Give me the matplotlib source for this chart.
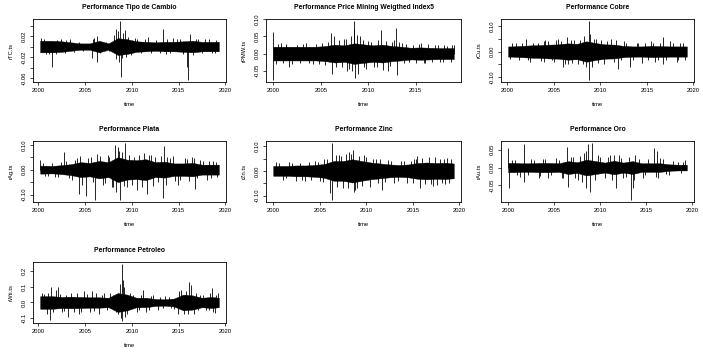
import numpy as np
import matplotlib
matplotlib.use("Agg")
import matplotlib.pyplot as plt

plt.rcParams['font.family'] = ['Liberation Sans', 'DejaVu Sans']

# yearly width of the dense core of each series (half width, symmetric around 0)
years = [2000, 2001, 2002, 2003, 2004, 2005, 2006, 2007, 2008, 2009,
         2010, 2011, 2012, 2013, 2014, 2015, 2016, 2017, 2018, 2019]
x_ticks = [2000, 2005, 2010, 2015, 2020]

# Tipo de Cambio
tc_start, tc_end = 2000.2, 2019.3
tc_band = [0.011, 0.011, 0.010, 0.008, 0.006, 0.006, 0.011, 0.006, 0.016, 0.014,
           0.010, 0.009, 0.008, 0.009, 0.009, 0.010, 0.011, 0.009, 0.009, 0.009]
tc_spike_t = [2000.3, 2000.8, 2001.5, 2002.0, 2002.9, 2003.4, 2005.7, 2006.0, 2006.25, 2006.3,
              2008.3, 2008.32, 2008.5, 2008.75, 2008.8, 2009.0, 2009.3, 2009.6, 2010.6, 2011.7,
              2013.3, 2013.6, 2014.4, 2015.2, 2015.9, 2016.05, 2016.25, 2016.9, 2017.8, 2018.6, 2019.0]
tc_spike_v = [0.016, -0.014, -0.039, 0.013, -0.012, 0.014, -0.021, 0.016, -0.029, 0.021,
              0.034, -0.023, 0.029, 0.048, -0.057, -0.022, 0.032, 0.019, 0.014, 0.019,
              0.034, -0.014, 0.016, 0.014, -0.038, -0.063, 0.024, 0.014, 0.014, -0.013, 0.013]
tc_small_t = [2000.6, 2001.1, 2001.9, 2002.4, 2003.0, 2003.8, 2004.3, 2004.8, 2005.9, 2006.6,
              2007.2, 2007.6, 2008.1, 2008.6, 2009.1, 2009.4, 2009.9, 2010.3, 2011.0, 2011.4,
              2012.1, 2012.6, 2013.0, 2013.8, 2014.1, 2014.8, 2015.5, 2016.5, 2017.1, 2017.5,
              2018.2, 2018.9]
tc_small_v = [0.015, -0.015, -0.014, 0.014, 0.012, -0.010, 0.009, -0.008, 0.015, -0.012,
              0.009, -0.009, 0.022, -0.030, 0.025, -0.020, -0.016, 0.016, -0.013, 0.014,
              -0.012, 0.013, -0.012, 0.014, -0.013, 0.014, -0.014, -0.016, 0.015, -0.013,
              0.014, -0.013]
tc_yticks = [-0.06, -0.04, -0.02, 0.00, 0.02, 0.04]
tc_ylabels = ["-0.06", "", "-0.02", "", "0.02", ""]

# Price Mining Weigthed Index5
pmw_start, pmw_end = 2000.0, 2019.0
pmw_band = [0.020, 0.020, 0.020, 0.020, 0.020, 0.022, 0.026, 0.024, 0.030, 0.027,
            0.024, 0.026, 0.022, 0.020, 0.017, 0.018, 0.017, 0.016, 0.016, 0.016]
pmw_spike_t = [2000.0, 2000.02, 2000.5, 2001.0, 2001.7, 2002.5, 2003.5, 2004.2, 2004.5, 2005.5,
               2006.1, 2006.2, 2006.4, 2007.2, 2007.7, 2007.8, 2008.2, 2008.45, 2008.55, 2008.6,
               2008.9, 2009.1, 2009.8, 2010.3, 2010.6, 2011.3, 2011.6, 2012.1, 2012.5, 2012.95,
               2013.0, 2013.5, 2014.3, 2015.6, 2015.9, 2016.3, 2017.0, 2017.5, 2018.3, 2019.0]
pmw_spike_v = [0.062, -0.076, 0.028, -0.028, -0.038, 0.026, 0.030, -0.030, 0.028, -0.034,
               0.059, -0.059, 0.052, -0.040, 0.043, -0.052, 0.050, 0.071, 0.094, -0.071,
               -0.060, 0.050, -0.045, 0.033, -0.040, 0.068, -0.049, -0.052, 0.035, 0.076,
               -0.062, 0.030, -0.025, 0.030, -0.028, 0.029, 0.025, -0.025, 0.022, 0.026]
pmw_small_t = [2000.3, 2000.8, 2001.3, 2002.0, 2002.8, 2003.1, 2003.8, 2004.8, 2005.1, 2005.8,
               2006.6, 2006.9, 2007.4, 2008.0, 2008.3, 2008.8, 2009.4, 2009.6, 2010.0, 2010.9,
               2011.0, 2011.9, 2012.3, 2012.7, 2013.2, 2013.8, 2014.0, 2014.7, 2015.0, 2015.3,
               2016.0, 2016.7, 2017.3, 2017.9, 2018.0, 2018.7, 2018.8]
pmw_small_v = [-0.030, 0.030, 0.027, -0.030, -0.028, 0.029, -0.027, -0.030, 0.032, 0.035,
               -0.040, 0.040, 0.042, -0.045, -0.050, 0.055, 0.040, -0.040, 0.038, -0.038,
               0.040, 0.036, -0.035, 0.040, 0.035, -0.028, 0.027, 0.026, -0.026, 0.027,
               -0.026, -0.025, 0.026, -0.024, 0.025, -0.024, 0.024]
pmw_yticks = [-0.05, 0.00, 0.05, 0.10]
pmw_ylabels = ["-0.05", "0.00", "0.05", "0.10"]

# Cobre
cu_start, cu_end = 2000.1, 2019.3
cu_band = [0.020, 0.022, 0.024, 0.025, 0.027, 0.028, 0.032, 0.030, 0.040, 0.033,
           0.028, 0.027, 0.022, 0.020, 0.020, 0.022, 0.021, 0.020, 0.020, 0.020]
cu_spike_t = [2000.5, 2001.3, 2002.0, 2002.5, 2003.3, 2004.0, 2004.1, 2004.8, 2005.5, 2005.95,
              2006.4, 2006.5, 2007.2, 2007.6, 2008.3, 2008.75, 2008.8, 2008.9, 2009.1, 2009.5,
              2010.4, 2011.2, 2011.9, 2012.5, 2013.15, 2013.9, 2014.5, 2015.4, 2015.9, 2016.75,
              2016.7, 2017.5, 2018.2, 2018.6, 2019.1]
cu_spike_v = [0.035, -0.035, 0.049, -0.040, 0.035, -0.040, 0.045, -0.035, 0.050, -0.060,
              0.057, -0.050, 0.045, -0.050, 0.060, 0.118, -0.110, 0.070, -0.060, 0.050,
              -0.050, 0.049, -0.067, 0.040, -0.060, 0.035, -0.045, 0.040, -0.040, 0.057,
              -0.050, 0.040, -0.040, 0.035, -0.035]
cu_small_t = [2000.3, 2000.9, 2001.6, 2002.2, 2002.8, 2003.6, 2003.9, 2004.4, 2005.0, 2005.2,
              2005.8, 2006.2, 2006.8, 2007.0, 2007.8, 2008.1, 2008.5, 2009.3, 2009.8, 2010.1,
              2010.7, 2011.5, 2011.7, 2012.2, 2012.8, 2013.5, 2014.1, 2014.8, 2015.1, 2015.7,
              2016.2, 2016.4, 2017.1, 2017.8, 2018.4, 2018.9]
cu_small_v = [-0.030, 0.032, 0.033, -0.035, 0.035, -0.036, 0.040, 0.042, -0.040, 0.044,
              0.042, -0.048, 0.045, -0.045, 0.045, -0.050, -0.060, 0.050, -0.045, 0.045,
              0.042, -0.042, 0.045, -0.035, 0.035, -0.032, 0.032, 0.034, -0.035, 0.033,
              -0.034, 0.035, -0.032, 0.034, -0.032, 0.032]
cu_yticks = [-0.10, -0.05, 0.00, 0.05, 0.10]
cu_ylabels = ["-0.10", "", "0.00", "", "0.10"]

# Plata
ag_start, ag_end = 2000.2, 2019.3
ag_band = [0.016, 0.015, 0.018, 0.022, 0.030, 0.027, 0.035, 0.030, 0.050, 0.040,
           0.038, 0.042, 0.030, 0.032, 0.025, 0.025, 0.027, 0.020, 0.020, 0.020]
ag_spike_t = [2000.2, 2000.7, 2001.5, 2002.1, 2002.7, 2003.3, 2003.9, 2004.35, 2004.5, 2005.1,
              2005.6, 2006.1, 2006.3, 2006.9, 2007.4, 2007.9, 2008.2, 2008.3, 2008.5, 2008.75,
              2009.0, 2009.3, 2009.5, 2010.2, 2010.5, 2011.3, 2011.6, 2012.0, 2012.3, 2013.4,
              2013.35, 2013.8, 2014.4, 2014.9, 2015.7, 2016.4, 2016.75, 2017.3, 2018.0, 2018.7, 2019.1]
ag_spike_v = [0.038, -0.025, 0.025, -0.030, 0.071, -0.035, 0.040, -0.098, 0.055, -0.106,
              0.050, -0.121, 0.061, -0.060, 0.060, -0.070, 0.100, -0.090, 0.090, -0.121,
              0.070, 0.106, -0.070, 0.050, -0.080, 0.068, -0.098, 0.060, -0.065, 0.094,
              -0.114, 0.050, 0.053, -0.060, 0.045, 0.050, -0.076, 0.040, -0.040, 0.035, -0.030]
ag_small_t = [2000.5, 2001.0, 2001.8, 2002.4, 2003.0, 2003.6, 2004.1, 2004.7, 2005.3, 2005.8,
              2006.6, 2007.1, 2007.6, 2008.0, 2008.6, 2009.2, 2009.7, 2010.0, 2010.8, 2011.1,
              2011.8, 2012.5, 2012.8, 2013.1, 2013.6, 2014.1, 2014.6, 2015.2, 2015.9, 2016.1,
              2016.6, 2017.0, 2017.6, 2018.3, 2018.5, 2019.0]
ag_small_v = [0.025, -0.025, -0.028, 0.030, 0.035, -0.040, 0.045, -0.060, 0.045, -0.050,
              0.055, -0.055, 0.050, -0.070, 0.075, -0.065, 0.060, -0.060, 0.060, -0.070,
              0.060, 0.050, -0.050, 0.055, -0.060, 0.045, -0.045, -0.040, 0.042, -0.045,
              0.045, -0.035, 0.035, 0.033, -0.032, 0.030]
ag_yticks = [-0.10, -0.05, 0.00, 0.05, 0.10]
ag_ylabels = ["-0.10", "", "0.00", "", "0.10"]

# Zinc
zn_start, zn_end = 2000.0, 2019.4
zn_band = [0.020, 0.020, 0.022, 0.022, 0.024, 0.028, 0.040, 0.040, 0.047, 0.040,
           0.034, 0.030, 0.026, 0.024, 0.026, 0.032, 0.034, 0.032, 0.033, 0.030]
zn_spike_t = [2000.3, 2001.0, 2001.7, 2002.5, 2003.4, 2003.8, 2004.5, 2005.0, 2005.5, 2006.1,
              2006.3, 2006.35, 2006.7, 2007.3, 2007.5, 2008.1, 2008.6, 2008.7, 2008.8, 2009.2,
              2009.8, 2010.4, 2011.0, 2011.7, 2012.3, 2013.0, 2013.7, 2014.4, 2015.1, 2015.5,
              2015.8, 2016.7, 2017.2, 2017.6, 2018.3, 2018.7, 2018.9]
zn_spike_v = [0.035, -0.035, 0.038, -0.043, -0.040, 0.035, 0.040, -0.040, 0.050, -0.090,
              0.112, -0.117, 0.065, 0.060, -0.070, 0.076, 0.085, -0.084, -0.077, 0.060,
              0.065, -0.065, 0.050, -0.077, 0.045, -0.050, 0.040, -0.050, 0.050, 0.060,
              -0.068, 0.058, -0.060, -0.056, 0.050, 0.054, -0.050]
zn_small_t = [2000.6, 2001.4, 2002.0, 2002.9, 2003.1, 2004.1, 2004.8, 2005.3, 2005.8, 2006.9,
              2007.1, 2007.8, 2008.0, 2008.4, 2009.0, 2009.5, 2010.0, 2010.7, 2011.3, 2011.5,
              2012.0, 2012.7, 2013.4, 2014.0, 2014.8, 2015.0, 2015.3, 2016.0, 2016.3, 2016.9,
              2017.4, 2017.9, 2018.1, 2018.5, 2019.1]
zn_small_v = [0.030, -0.030, 0.032, 0.033, -0.035, -0.035, 0.038, -0.045, 0.050, -0.065,
              0.065, 0.070, -0.070, 0.070, -0.070, -0.060, 0.055, 0.050, -0.050, 0.050,
              -0.045, 0.040, -0.040, 0.040, 0.042, -0.050, 0.050, 0.052, -0.055, -0.052,
              0.055, 0.050, -0.050, -0.052, 0.048]
zn_yticks = [-0.10, -0.05, 0.00, 0.05, 0.10]
zn_ylabels = ["-0.10", "", "0.00", "", "0.10"]

# Oro
au_start, au_end = 2000.0, 2019.4
au_band = [0.013, 0.012, 0.012, 0.013, 0.013, 0.012, 0.018, 0.015, 0.022, 0.018,
           0.014, 0.019, 0.014, 0.018, 0.012, 0.012, 0.012, 0.009, 0.008, 0.008]
au_spike_t = [2000.0, 2000.05, 2000.7, 2001.3, 2001.7, 2001.75, 2002.5, 2003.3, 2003.8, 2004.3,
              2005.2, 2005.8, 2006.4, 2006.5, 2007.0, 2007.6, 2008.2, 2008.4, 2008.7, 2008.9,
              2009.1, 2009.7, 2010.5, 2011.1, 2011.7, 2012.0, 2012.5, 2013.3, 2013.5, 2013.8,
              2014.6, 2015.8, 2016.2, 2016.3, 2016.8, 2017.5, 2018.4, 2019.2]
au_spike_v = [0.054, -0.057, 0.020, -0.025, 0.065, -0.039, 0.025, -0.030, 0.025, -0.030,
              0.028, -0.028, 0.058, -0.053, 0.030, -0.035, 0.040, -0.057, 0.065, -0.068,
              0.068, 0.035, -0.030, 0.036, -0.056, 0.035, -0.030, -0.090, -0.057, 0.035,
              -0.030, 0.054, 0.046, -0.030, 0.025, -0.020, 0.015, 0.020]
au_small_t = [2000.4, 2001.0, 2002.2, 2002.8, 2003.5, 2004.0, 2004.7, 2005.5, 2006.0, 2006.8,
              2007.3, 2007.8, 2008.0, 2008.5, 2009.4, 2010.0, 2010.8, 2011.3, 2011.5, 2012.3,
              2012.8, 2013.1, 2013.7, 2014.2, 2014.9, 2015.2, 2016.0, 2016.5, 2017.1, 2017.9,
              2018.8, 2019.0]
au_small_v = [0.020, -0.020, -0.022, 0.022, -0.024, 0.025, -0.022, 0.022, -0.030, 0.030,
              -0.028, 0.032, -0.040, 0.045, -0.035, 0.030, 0.030, -0.035, 0.035, 0.028,
              -0.026, 0.030, -0.035, 0.025, -0.022, 0.025, -0.025, 0.028, -0.018, 0.017,
              -0.016, 0.015]
au_yticks = [-0.05, 0.00, 0.05]
au_ylabels = ["-0.05", "0.00", "0.05"]

# Petroleo
wti_start, wti_end = 2000.2, 2019.3
wti_band = [0.040, 0.040, 0.035, 0.037, 0.035, 0.033, 0.033, 0.030, 0.060, 0.050,
            0.030, 0.030, 0.022, 0.020, 0.025, 0.050, 0.045, 0.030, 0.035, 0.030]
wti_spike_t = [2000.4, 2000.9, 2001.25, 2001.4, 2001.9, 2002.1, 2002.5, 2003.2, 2003.5, 2004.3,
               2004.9, 2005.5, 2005.7, 2006.5, 2007.0, 2007.7, 2008.3, 2008.7, 2008.85, 2008.95,
               2009.0, 2009.1, 2009.3, 2009.8, 2010.5, 2011.2, 2011.5, 2012.3, 2012.8, 2013.5,
               2014.5, 2014.9, 2015.3, 2015.6, 2016.1, 2016.3, 2016.6, 2017.3, 2017.9, 2018.6,
               2018.9, 2019.2]
wti_spike_v = [0.060, -0.070, -0.109, 0.100, 0.080, 0.100, -0.060, -0.090, 0.060, -0.070,
               0.070, -0.060, 0.075, -0.070, 0.060, 0.060, -0.060, 0.120, -0.100, 0.243,
               -0.116, 0.140, -0.090, 0.060, -0.060, 0.080, -0.060, 0.050, -0.050, 0.040,
               -0.040, -0.075, 0.080, -0.075, 0.130, 0.110, -0.070, 0.050, -0.050, 0.095,
               -0.068, 0.060]
wti_small_t = [2000.6, 2001.0, 2001.6, 2002.3, 2002.8, 2003.0, 2003.8, 2004.1, 2004.6, 2005.2,
               2006.0, 2006.2, 2006.8, 2007.3, 2008.0, 2008.5, 2009.2, 2009.5, 2010.1, 2010.8,
               2011.0, 2011.8, 2012.0, 2013.0, 2013.3, 2014.0, 2014.2, 2015.0, 2015.8, 2016.0,
               2016.9, 2017.1, 2017.6, 2018.2, 2018.4, 2018.7, 2019.0]
wti_small_v = [0.055, 0.060, -0.060, 0.055, -0.055, 0.050, -0.060, 0.060, -0.060, 0.055,
               -0.055, 0.060, 0.050, -0.050, 0.050, -0.070, 0.100, -0.070, 0.050, -0.050,
               0.050, -0.045, 0.040, 0.035, -0.035, 0.035, -0.035, 0.070, 0.070, -0.075,
               0.060, -0.050, 0.050, -0.050, 0.060, -0.060, 0.045]
wti_yticks = [-0.1, 0.0, 0.1, 0.2]
wti_ylabels = ["-0.1", "0.0", "0.1", "0.2"]

panels = [
    ("Performance Tipo de Cambio", "rTC.ts", tc_start, tc_end, tc_band,
     tc_spike_t + tc_small_t, tc_spike_v + tc_small_v, tc_yticks, tc_ylabels),
    ("Performance Price Mining Weigthed Index5", "rPMW.ts", pmw_start, pmw_end, pmw_band,
     pmw_spike_t + pmw_small_t, pmw_spike_v + pmw_small_v, pmw_yticks, pmw_ylabels),
    ("Performance Cobre", "rCu.ts", cu_start, cu_end, cu_band,
     cu_spike_t + cu_small_t, cu_spike_v + cu_small_v, cu_yticks, cu_ylabels),
    ("Performance Plata", "rAg.ts", ag_start, ag_end, ag_band,
     ag_spike_t + ag_small_t, ag_spike_v + ag_small_v, ag_yticks, ag_ylabels),
    ("Performance Zinc", "rZn.ts", zn_start, zn_end, zn_band,
     zn_spike_t + zn_small_t, zn_spike_v + zn_small_v, zn_yticks, zn_ylabels),
    ("Performance Oro", "rAu.ts", au_start, au_end, au_band,
     au_spike_t + au_small_t, au_spike_v + au_small_v, au_yticks, au_ylabels),
    ("Performance Petroleo", "rWti.ts", wti_start, wti_end, wti_band,
     wti_spike_t + wti_small_t, wti_spike_v + wti_small_v, wti_yticks, wti_ylabels),
]

W, H = 703, 352
fig = plt.figure(figsize=(W / 100, H / 100), dpi=100)

# plot boxes in pixels (left, right), (top, bottom)
cols = [(33, 226), (266, 461), (501, 694)]
rows = [(19, 82), (141, 202), (262, 323)]

for i, (title, ylab, t0, t1, band, sp_t, sp_v, yt, yl) in enumerate(panels):
    c = cols[i % 3]
    r = rows[i // 3]
    ax = fig.add_axes([c[0] / W, 1 - r[1] / H, (c[1] - c[0]) / W, (r[1] - r[0]) / H])

    t = np.clip(np.array([t0] + [y + 0.5 for y in years] + [t1]), t0, t1)
    b = np.array([band[0]] + band + [band[-1]])
    ax.fill_between(t, -b, b, color='black', lw=0.3)
    ax.vlines(sp_t, 0, sp_v, color='black', lw=0.6)

    lo = min(min(sp_v), -max(band))
    hi = max(max(sp_v), max(band))
    pad = 0.04 * (hi - lo)
    ax.set_ylim(lo - pad, hi + pad)
    xpad = 0.04 * (t1 - t0)
    ax.set_xticks(x_ticks)
    ax.set_xlim(t0 - xpad, t1 + xpad)
    ax.set_yticks(yt)
    ax.set_yticklabels(yl, rotation=90, va='center')

    ax.tick_params(axis='both', labelsize=4.2, length=2.3, width=0.5, pad=1.8)
    ax.tick_params(axis='y', pad=2.3)
    for s in ax.spines.values():
        s.set_linewidth(0.6)

    ax.set_title(title, fontsize=4.9, fontweight='bold', pad=7)
    ax.set_xlabel("time", fontsize=4.2, labelpad=6.5)
    ax.set_ylabel(ylab, fontsize=4.2, labelpad=6)

fig.savefig("out.png", dpi=100)
